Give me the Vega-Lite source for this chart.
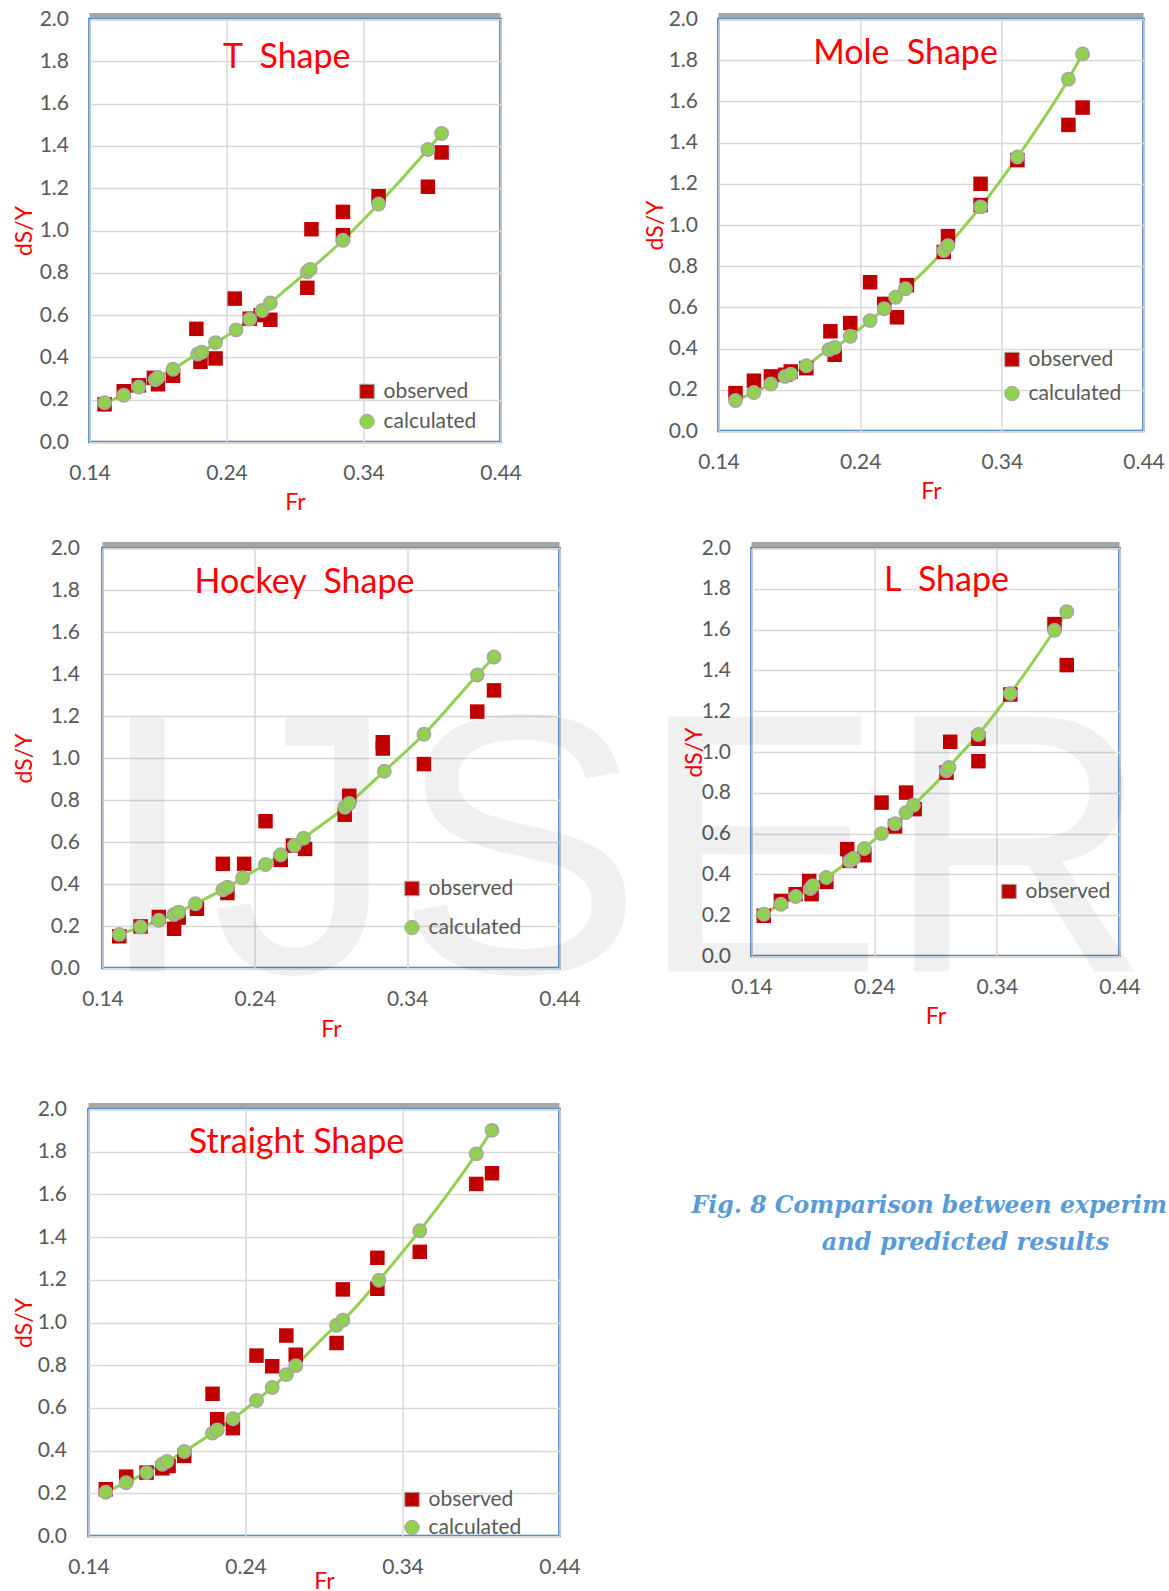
{
"$schema": "https://vega.github.io/schema/vega-lite/v6.json",
"background": "white",
"padding": {"left": 10.5, "top": 6, "right": 0, "bottom": 0},
"datasets": {
"pts": [
{"panel":"T","series":"observed","Fr":0.151,"dSY":0.178},{"panel":"T","series":"observed","Fr":0.165,"dSY":0.240},{"panel":"T","series":"observed","Fr":0.176,"dSY":0.268},{"panel":"T","series":"observed","Fr":0.187,"dSY":0.303},{"panel":"T","series":"observed","Fr":0.190,"dSY":0.273},{"panel":"T","series":"observed","Fr":0.201,"dSY":0.313},{"panel":"T","series":"observed","Fr":0.218,"dSY":0.535},{"panel":"T","series":"observed","Fr":0.221,"dSY":0.379},{"panel":"T","series":"observed","Fr":0.232,"dSY":0.395},{"panel":"T","series":"observed","Fr":0.246,"dSY":0.678},{"panel":"T","series":"observed","Fr":0.257,"dSY":0.583},{"panel":"T","series":"observed","Fr":0.265,"dSY":0.600},{"panel":"T","series":"observed","Fr":0.272,"dSY":0.578},{"panel":"T","series":"observed","Fr":0.299,"dSY":0.729},{"panel":"T","series":"observed","Fr":0.302,"dSY":1.006},{"panel":"T","series":"observed","Fr":0.325,"dSY":1.088},{"panel":"T","series":"observed","Fr":0.325,"dSY":0.978},{"panel":"T","series":"observed","Fr":0.351,"dSY":1.162},{"panel":"T","series":"observed","Fr":0.387,"dSY":1.207},{"panel":"T","series":"observed","Fr":0.397,"dSY":1.369},
{"panel":"T","series":"calculated","Fr":0.151,"dSY":0.186},{"panel":"T","series":"calculated","Fr":0.165,"dSY":0.221},{"panel":"T","series":"calculated","Fr":0.176,"dSY":0.260},{"panel":"T","series":"calculated","Fr":0.188,"dSY":0.295},{"panel":"T","series":"calculated","Fr":0.190,"dSY":0.305},{"panel":"T","series":"calculated","Fr":0.201,"dSY":0.344},{"panel":"T","series":"calculated","Fr":0.219,"dSY":0.416},{"panel":"T","series":"calculated","Fr":0.222,"dSY":0.424},{"panel":"T","series":"calculated","Fr":0.232,"dSY":0.470},{"panel":"T","series":"calculated","Fr":0.247,"dSY":0.530},{"panel":"T","series":"calculated","Fr":0.257,"dSY":0.581},{"panel":"T","series":"calculated","Fr":0.266,"dSY":0.622},{"panel":"T","series":"calculated","Fr":0.272,"dSY":0.657},{"panel":"T","series":"calculated","Fr":0.299,"dSY":0.805},{"panel":"T","series":"calculated","Fr":0.301,"dSY":0.816},{"panel":"T","series":"calculated","Fr":0.325,"dSY":0.954},{"panel":"T","series":"calculated","Fr":0.351,"dSY":1.125},{"panel":"T","series":"calculated","Fr":0.387,"dSY":1.383},{"panel":"T","series":"calculated","Fr":0.397,"dSY":1.459},
{"panel":"Mole","series":"observed","Fr":0.152,"dSY":0.184},{"panel":"Mole","series":"observed","Fr":0.165,"dSY":0.244},{"panel":"Mole","series":"observed","Fr":0.177,"dSY":0.265},{"panel":"Mole","series":"observed","Fr":0.187,"dSY":0.273},{"panel":"Mole","series":"observed","Fr":0.191,"dSY":0.289},{"panel":"Mole","series":"observed","Fr":0.202,"dSY":0.305},{"panel":"Mole","series":"observed","Fr":0.219,"dSY":0.484},{"panel":"Mole","series":"observed","Fr":0.222,"dSY":0.370},{"panel":"Mole","series":"observed","Fr":0.233,"dSY":0.524},{"panel":"Mole","series":"observed","Fr":0.247,"dSY":0.722},{"panel":"Mole","series":"observed","Fr":0.257,"dSY":0.617},{"panel":"Mole","series":"observed","Fr":0.266,"dSY":0.552},{"panel":"Mole","series":"observed","Fr":0.273,"dSY":0.708},{"panel":"Mole","series":"observed","Fr":0.299,"dSY":0.869},{"panel":"Mole","series":"observed","Fr":0.302,"dSY":0.946},{"panel":"Mole","series":"observed","Fr":0.325,"dSY":1.200},{"panel":"Mole","series":"observed","Fr":0.325,"dSY":1.097},{"panel":"Mole","series":"observed","Fr":0.351,"dSY":1.315},{"panel":"Mole","series":"observed","Fr":0.387,"dSY":1.486},{"panel":"Mole","series":"observed","Fr":0.397,"dSY":1.570},
{"panel":"Mole","series":"calculated","Fr":0.152,"dSY":0.148},{"panel":"Mole","series":"calculated","Fr":0.165,"dSY":0.187},{"panel":"Mole","series":"calculated","Fr":0.177,"dSY":0.228},{"panel":"Mole","series":"calculated","Fr":0.187,"dSY":0.265},{"panel":"Mole","series":"calculated","Fr":0.191,"dSY":0.276},{"panel":"Mole","series":"calculated","Fr":0.202,"dSY":0.317},{"panel":"Mole","series":"calculated","Fr":0.218,"dSY":0.395},{"panel":"Mole","series":"calculated","Fr":0.222,"dSY":0.406},{"panel":"Mole","series":"calculated","Fr":0.233,"dSY":0.460},{"panel":"Mole","series":"calculated","Fr":0.247,"dSY":0.536},{"panel":"Mole","series":"calculated","Fr":0.257,"dSY":0.594},{"panel":"Mole","series":"calculated","Fr":0.265,"dSY":0.649},{"panel":"Mole","series":"calculated","Fr":0.272,"dSY":0.691},{"panel":"Mole","series":"calculated","Fr":0.299,"dSY":0.876},{"panel":"Mole","series":"calculated","Fr":0.302,"dSY":0.900},{"panel":"Mole","series":"calculated","Fr":0.325,"dSY":1.088},{"panel":"Mole","series":"calculated","Fr":0.351,"dSY":1.330},{"panel":"Mole","series":"calculated","Fr":0.387,"dSY":1.708},{"panel":"Mole","series":"calculated","Fr":0.397,"dSY":1.830},
{"panel":"Hockey","series":"observed","Fr":0.151,"dSY":0.151},{"panel":"Hockey","series":"observed","Fr":0.165,"dSY":0.198},{"panel":"Hockey","series":"observed","Fr":0.177,"dSY":0.243},{"panel":"Hockey","series":"observed","Fr":0.187,"dSY":0.187},{"panel":"Hockey","series":"observed","Fr":0.190,"dSY":0.240},{"panel":"Hockey","series":"observed","Fr":0.202,"dSY":0.282},{"panel":"Hockey","series":"observed","Fr":0.219,"dSY":0.496},{"panel":"Hockey","series":"observed","Fr":0.222,"dSY":0.357},{"panel":"Hockey","series":"observed","Fr":0.233,"dSY":0.496},{"panel":"Hockey","series":"observed","Fr":0.247,"dSY":0.699},{"panel":"Hockey","series":"observed","Fr":0.257,"dSY":0.515},{"panel":"Hockey","series":"observed","Fr":0.265,"dSY":0.583},{"panel":"Hockey","series":"observed","Fr":0.273,"dSY":0.567},{"panel":"Hockey","series":"observed","Fr":0.299,"dSY":0.730},{"panel":"Hockey","series":"observed","Fr":0.302,"dSY":0.820},{"panel":"Hockey","series":"observed","Fr":0.324,"dSY":1.075},{"panel":"Hockey","series":"observed","Fr":0.324,"dSY":1.045},{"panel":"Hockey","series":"observed","Fr":0.351,"dSY":0.971},{"panel":"Hockey","series":"observed","Fr":0.386,"dSY":1.221},{"panel":"Hockey","series":"observed","Fr":0.397,"dSY":1.322},
{"panel":"Hockey","series":"calculated","Fr":0.151,"dSY":0.160},{"panel":"Hockey","series":"calculated","Fr":0.165,"dSY":0.195},{"panel":"Hockey","series":"calculated","Fr":0.177,"dSY":0.227},{"panel":"Hockey","series":"calculated","Fr":0.187,"dSY":0.255},{"panel":"Hockey","series":"calculated","Fr":0.190,"dSY":0.266},{"panel":"Hockey","series":"calculated","Fr":0.201,"dSY":0.306},{"panel":"Hockey","series":"calculated","Fr":0.219,"dSY":0.373},{"panel":"Hockey","series":"calculated","Fr":0.222,"dSY":0.385},{"panel":"Hockey","series":"calculated","Fr":0.232,"dSY":0.430},{"panel":"Hockey","series":"calculated","Fr":0.247,"dSY":0.493},{"panel":"Hockey","series":"calculated","Fr":0.257,"dSY":0.539},{"panel":"Hockey","series":"calculated","Fr":0.266,"dSY":0.583},{"panel":"Hockey","series":"calculated","Fr":0.272,"dSY":0.618},{"panel":"Hockey","series":"calculated","Fr":0.299,"dSY":0.765},{"panel":"Hockey","series":"calculated","Fr":0.302,"dSY":0.784},{"panel":"Hockey","series":"calculated","Fr":0.325,"dSY":0.937},{"panel":"Hockey","series":"calculated","Fr":0.351,"dSY":1.113},{"panel":"Hockey","series":"calculated","Fr":0.386,"dSY":1.395},{"panel":"Hockey","series":"calculated","Fr":0.397,"dSY":1.481},
{"panel":"L","series":"observed","Fr":0.150,"dSY":0.197},{"panel":"L","series":"observed","Fr":0.164,"dSY":0.270},{"panel":"L","series":"observed","Fr":0.176,"dSY":0.303},{"panel":"L","series":"observed","Fr":0.187,"dSY":0.368},{"panel":"L","series":"observed","Fr":0.189,"dSY":0.303},{"panel":"L","series":"observed","Fr":0.201,"dSY":0.363},{"panel":"L","series":"observed","Fr":0.218,"dSY":0.524},{"panel":"L","series":"observed","Fr":0.220,"dSY":0.466},{"panel":"L","series":"observed","Fr":0.232,"dSY":0.494},{"panel":"L","series":"observed","Fr":0.246,"dSY":0.752},{"panel":"L","series":"observed","Fr":0.257,"dSY":0.635},{"panel":"L","series":"observed","Fr":0.266,"dSY":0.801},{"panel":"L","series":"observed","Fr":0.273,"dSY":0.720},{"panel":"L","series":"observed","Fr":0.299,"dSY":0.899},{"panel":"L","series":"observed","Fr":0.302,"dSY":1.050},{"panel":"L","series":"observed","Fr":0.325,"dSY":1.065},{"panel":"L","series":"observed","Fr":0.325,"dSY":0.955},{"panel":"L","series":"observed","Fr":0.351,"dSY":1.282},{"panel":"L","series":"observed","Fr":0.387,"dSY":1.627},{"panel":"L","series":"observed","Fr":0.397,"dSY":1.426},
{"panel":"L","series":"calculated","Fr":0.150,"dSY":0.205},{"panel":"L","series":"calculated","Fr":0.164,"dSY":0.254},{"panel":"L","series":"calculated","Fr":0.176,"dSY":0.292},{"panel":"L","series":"calculated","Fr":0.188,"dSY":0.331},{"panel":"L","series":"calculated","Fr":0.190,"dSY":0.344},{"panel":"L","series":"calculated","Fr":0.201,"dSY":0.385},{"panel":"L","series":"calculated","Fr":0.220,"dSY":0.466},{"panel":"L","series":"calculated","Fr":0.223,"dSY":0.478},{"panel":"L","series":"calculated","Fr":0.232,"dSY":0.527},{"panel":"L","series":"calculated","Fr":0.246,"dSY":0.600},{"panel":"L","series":"calculated","Fr":0.257,"dSY":0.649},{"panel":"L","series":"calculated","Fr":0.266,"dSY":0.703},{"panel":"L","series":"calculated","Fr":0.272,"dSY":0.739},{"panel":"L","series":"calculated","Fr":0.299,"dSY":0.908},{"panel":"L","series":"calculated","Fr":0.301,"dSY":0.924},{"panel":"L","series":"calculated","Fr":0.325,"dSY":1.086},{"panel":"L","series":"calculated","Fr":0.351,"dSY":1.287},{"panel":"L","series":"calculated","Fr":0.387,"dSY":1.597},{"panel":"L","series":"calculated","Fr":0.397,"dSY":1.688},
{"panel":"Straight","series":"observed","Fr":0.151,"dSY":0.219},{"panel":"Straight","series":"observed","Fr":0.164,"dSY":0.278},{"panel":"Straight","series":"observed","Fr":0.177,"dSY":0.297},{"panel":"Straight","series":"observed","Fr":0.187,"dSY":0.317},{"panel":"Straight","series":"observed","Fr":0.191,"dSY":0.328},{"panel":"Straight","series":"observed","Fr":0.201,"dSY":0.375},{"panel":"Straight","series":"observed","Fr":0.219,"dSY":0.666},{"panel":"Straight","series":"observed","Fr":0.222,"dSY":0.547},{"panel":"Straight","series":"observed","Fr":0.232,"dSY":0.505},{"panel":"Straight","series":"observed","Fr":0.247,"dSY":0.845},{"panel":"Straight","series":"observed","Fr":0.257,"dSY":0.795},{"panel":"Straight","series":"observed","Fr":0.266,"dSY":0.939},{"panel":"Straight","series":"observed","Fr":0.272,"dSY":0.849},{"panel":"Straight","series":"observed","Fr":0.298,"dSY":0.904},{"panel":"Straight","series":"observed","Fr":0.302,"dSY":1.155},{"panel":"Straight","series":"observed","Fr":0.324,"dSY":1.303},{"panel":"Straight","series":"observed","Fr":0.324,"dSY":1.158},{"panel":"Straight","series":"observed","Fr":0.351,"dSY":1.331},{"panel":"Straight","series":"observed","Fr":0.387,"dSY":1.649},{"panel":"Straight","series":"observed","Fr":0.397,"dSY":1.699},
{"panel":"Straight","series":"calculated","Fr":0.151,"dSY":0.205},{"panel":"Straight","series":"calculated","Fr":0.164,"dSY":0.250},{"panel":"Straight","series":"calculated","Fr":0.177,"dSY":0.297},{"panel":"Straight","series":"calculated","Fr":0.187,"dSY":0.336},{"panel":"Straight","series":"calculated","Fr":0.190,"dSY":0.349},{"panel":"Straight","series":"calculated","Fr":0.201,"dSY":0.396},{"panel":"Straight","series":"calculated","Fr":0.219,"dSY":0.482},{"panel":"Straight","series":"calculated","Fr":0.222,"dSY":0.497},{"panel":"Straight","series":"calculated","Fr":0.232,"dSY":0.549},{"panel":"Straight","series":"calculated","Fr":0.247,"dSY":0.635},{"panel":"Straight","series":"calculated","Fr":0.257,"dSY":0.696},{"panel":"Straight","series":"calculated","Fr":0.266,"dSY":0.756},{"panel":"Straight","series":"calculated","Fr":0.272,"dSY":0.798},{"panel":"Straight","series":"calculated","Fr":0.298,"dSY":0.987},{"panel":"Straight","series":"calculated","Fr":0.302,"dSY":1.011},{"panel":"Straight","series":"calculated","Fr":0.325,"dSY":1.198},{"panel":"Straight","series":"calculated","Fr":0.351,"dSY":1.430},{"panel":"Straight","series":"calculated","Fr":0.387,"dSY":1.790},{"panel":"Straight","series":"calculated","Fr":0.397,"dSY":1.900}
]
},
"config": {
"font": "Lato",
"view": {"stroke": "#2e75b6", "strokeWidth": 2.5},
"axis": {"labelFont": "Lato", "labelFontSize": 21, "labelColor": "#595959", "labelFlush": false, "labelOverlap": false, "titleFont": "Lato", "titleFontSize": 23, "titleColor": "#ff0000", "titleFontWeight": "normal", "grid": true, "gridColor": "#d9d9d9", "gridWidth": 1.5, "ticks": false, "domain": false},
"legend": {"labelFont": "Lato", "labelFontSize": 21, "labelColor": "#595959", "symbolSize": 210, "labelOffset": 6, "padding": 0, "symbolStrokeColor": "#a6a6a6", "symbolStrokeWidth": 1}
},
"resolve": {"scale": {"color": "independent", "shape": "independent"}},
"columns": 1,
"align": "none",
"spacing": 48,
"concat": [
{
"columns": 1,
"align": "none",
"spacing": 19,
"resolve": {"scale": {"color": "independent", "shape": "independent"}},
"concat": [
{
"spacing": 0,
"resolve": {"scale": {"color": "independent", "shape": "independent"}},
"hconcat": [
{"width": 1, "height": 1, "view": {"stroke": null}, "data": {"values": [{}]}, "mark": {"type": "point", "size": 0, "opacity": 0}},
{
"spacing": 120,
"resolve": {"scale": {"color": "independent", "shape": "independent"}},
"hconcat": [
{
"width": 411, "height": 423,
"layer": [
{"data": {"values": [{}]}, "mark": {"type": "rule", "stroke": "#a6a6a6", "strokeWidth": 5, "yOffset": -3.5}, "encoding": {"y": {"datum": 2, "type": "quantitative"}}},
{"data": {"name": "pts"}, "transform": [{"filter": "datum.panel === 'T' && datum.series === 'calculated'"}], "mark": {"type": "line", "color": "#92d050", "strokeWidth": 3, "interpolate": "monotone"},
 "encoding": {"x": {"field": "Fr", "type": "quantitative", "title": "Fr", "scale": {"domain": [0.14, 0.44], "nice": false, "zero": false}, "axis": {"values": [0.14, 0.24, 0.34, 0.44], "format": ".2f", "labelPadding": 20, "titlePadding": 8}},
  "y": {"field": "dSY", "type": "quantitative", "title": "dS/Y", "scale": {"domain": [0, 2], "nice": false}, "axis": {"values": [0, 0.2, 0.4, 0.6, 0.8, 1, 1.2, 1.4, 1.6, 1.8, 2], "format": ".1f", "labelPadding": 21, "titlePadding": 3}}}},
{"data": {"name": "pts"}, "transform": [{"filter": "datum.panel === 'T' && datum.series === 'observed'"}], "mark": {"type": "point", "filled": true, "opacity": 1, "size": 210},
 "encoding": {"x": {"field": "Fr", "type": "quantitative"}, "y": {"field": "dSY", "type": "quantitative"},
  "color": {"field": "series", "type": "nominal", "scale": {"domain": ["observed", "calculated"], "range": ["#c00000", "#92d050"]}, "legend": {"title": null, "orient": "none", "legendX": 267, "legendY": 362, "rowPadding": 8}},
  "shape": {"field": "series", "type": "nominal", "scale": {"domain": ["observed", "calculated"], "range": ["square", "circle"]}}}},
{"data": {"name": "pts"}, "transform": [{"filter": "datum.panel === 'T' && datum.series === 'calculated'"}], "mark": {"type": "point", "filled": true, "opacity": 1, "size": 180, "stroke": "#a6a6a6", "strokeWidth": 1.5},
 "encoding": {"x": {"field": "Fr", "type": "quantitative"}, "y": {"field": "dSY", "type": "quantitative"},
  "color": {"field": "series", "type": "nominal"}, "shape": {"field": "series", "type": "nominal"}}},
{"data": {"values": [{"label": "T\u00a0\u00a0Shape"}]}, "mark": {"type": "text", "font": "Lato", "fontSize": 34, "color": "#ff0000", "baseline": "alphabetic"},
 "encoding": {"x": {"datum": 0.284, "type": "quantitative"}, "y": {"datum": 1.77, "type": "quantitative"}, "text": {"field": "label"}}}
]
},
{
"width": 425, "height": 412,
"layer": [
{"data": {"values": [{}]}, "mark": {"type": "rule", "stroke": "#a6a6a6", "strokeWidth": 5, "yOffset": -3.5}, "encoding": {"y": {"datum": 2, "type": "quantitative"}}},
{"data": {"name": "pts"}, "transform": [{"filter": "datum.panel === 'Mole' && datum.series === 'calculated'"}], "mark": {"type": "line", "color": "#92d050", "strokeWidth": 3, "interpolate": "monotone"},
 "encoding": {"x": {"field": "Fr", "type": "quantitative", "title": "Fr", "scale": {"domain": [0.14, 0.44], "nice": false, "zero": false}, "axis": {"values": [0.14, 0.24, 0.34, 0.44], "format": ".2f", "labelPadding": 20, "titlePadding": 8}},
  "y": {"field": "dSY", "type": "quantitative", "title": "dS/Y", "scale": {"domain": [0, 2], "nice": false}, "axis": {"values": [0, 0.2, 0.4, 0.6, 0.8, 1, 1.2, 1.4, 1.6, 1.8, 2], "format": ".1f", "labelPadding": 21, "titlePadding": 1}}}},
{"data": {"name": "pts"}, "transform": [{"filter": "datum.panel === 'Mole' && datum.series === 'observed'"}], "mark": {"type": "point", "filled": true, "opacity": 1, "size": 210},
 "encoding": {"x": {"field": "Fr", "type": "quantitative"}, "y": {"field": "dSY", "type": "quantitative"},
  "color": {"field": "series", "type": "nominal", "scale": {"domain": ["observed", "calculated"], "range": ["#c00000", "#92d050"]}, "legend": {"title": null, "orient": "none", "legendX": 283, "legendY": 330, "rowPadding": 12}},
  "shape": {"field": "series", "type": "nominal", "scale": {"domain": ["observed", "calculated"], "range": ["square", "circle"]}}}},
{"data": {"name": "pts"}, "transform": [{"filter": "datum.panel === 'Mole' && datum.series === 'calculated'"}], "mark": {"type": "point", "filled": true, "opacity": 1, "size": 180, "stroke": "#a6a6a6", "strokeWidth": 1.5},
 "encoding": {"x": {"field": "Fr", "type": "quantitative"}, "y": {"field": "dSY", "type": "quantitative"},
  "color": {"field": "series", "type": "nominal"}, "shape": {"field": "series", "type": "nominal"}}},
{"data": {"values": [{"label": "Mole\u00a0\u00a0Shape"}]}, "mark": {"type": "text", "font": "Lato", "fontSize": 34, "color": "#ff0000", "baseline": "alphabetic"},
 "encoding": {"x": {"datum": 0.272, "type": "quantitative"}, "y": {"datum": 1.783, "type": "quantitative"}, "text": {"field": "label"}}}
]
}
]
}
]
},
{
"spacing": 0,
"resolve": {"scale": {"color": "independent", "shape": "independent"}},
"hconcat": [
{"width": 1, "height": 1, "view": {"stroke": null}, "data": {"values": [{}]}, "mark": {"type": "point", "size": 0, "opacity": 0}},
{
"spacing": -9,
"resolve": {"scale": {"color": "independent", "shape": "independent"}},
"hconcat": [
{
"width": 457, "height": 420,
"layer": [
{"data": {"values": [{"t": "I"}]}, "mark": {"type": "text", "font": "Liberation Sans", "fontSize": 370, "align": "left", "baseline": "alphabetic", "color": "#000000", "opacity": 0.055},
 "encoding": {"x": {"datum": 0.13573, "type": "quantitative"}, "y": {"datum": -0.02, "type": "quantitative"}, "text": {"field": "t"}}},
{"data": {"values": [{"t": "JS"}]}, "mark": {"type": "text", "font": "Liberation Sans", "fontSize": 370, "align": "left", "baseline": "alphabetic", "color": "#000000", "opacity": 0.055},
 "encoding": {"x": {"datum": 0.21124, "type": "quantitative"}, "y": {"datum": -0.02, "type": "quantitative"}, "text": {"field": "t"}}},
{"data": {"values": [{}]}, "mark": {"type": "rule", "stroke": "#a6a6a6", "strokeWidth": 5, "yOffset": -3.5}, "encoding": {"y": {"datum": 2, "type": "quantitative"}}},
{"data": {"name": "pts"}, "transform": [{"filter": "datum.panel === 'Hockey' && datum.series === 'calculated'"}], "mark": {"type": "line", "color": "#92d050", "strokeWidth": 3, "interpolate": "monotone"},
 "encoding": {"x": {"field": "Fr", "type": "quantitative", "title": "Fr", "scale": {"domain": [0.14, 0.44], "nice": false, "zero": false}, "axis": {"values": [0.14, 0.24, 0.34, 0.44], "format": ".2f", "labelPadding": 20, "titlePadding": 9}},
  "y": {"field": "dSY", "type": "quantitative", "title": "dS/Y", "scale": {"domain": [0, 2], "nice": false}, "axis": {"values": [0, 0.2, 0.4, 0.6, 0.8, 1, 1.2, 1.4, 1.6, 1.8, 2], "format": ".1f", "labelPadding": 23, "titlePadding": 14}}}},
{"data": {"name": "pts"}, "transform": [{"filter": "datum.panel === 'Hockey' && datum.series === 'observed'"}], "mark": {"type": "point", "filled": true, "opacity": 1, "size": 210},
 "encoding": {"x": {"field": "Fr", "type": "quantitative"}, "y": {"field": "dSY", "type": "quantitative"},
  "color": {"field": "series", "type": "nominal", "scale": {"domain": ["observed", "calculated"], "range": ["#c00000", "#92d050"]}, "legend": {"title": null, "orient": "none", "legendX": 299, "legendY": 330, "rowPadding": 17}},
  "shape": {"field": "series", "type": "nominal", "scale": {"domain": ["observed", "calculated"], "range": ["square", "circle"]}}}},
{"data": {"name": "pts"}, "transform": [{"filter": "datum.panel === 'Hockey' && datum.series === 'calculated'"}], "mark": {"type": "point", "filled": true, "opacity": 1, "size": 180, "stroke": "#a6a6a6", "strokeWidth": 1.5},
 "encoding": {"x": {"field": "Fr", "type": "quantitative"}, "y": {"field": "dSY", "type": "quantitative"},
  "color": {"field": "series", "type": "nominal"}, "shape": {"field": "series", "type": "nominal"}}},
{"data": {"values": [{"label": "Hockey\u00a0\u00a0Shape"}]}, "mark": {"type": "text", "font": "Lato", "fontSize": 34, "color": "#ff0000", "baseline": "alphabetic"},
 "encoding": {"x": {"datum": 0.2726, "type": "quantitative"}, "y": {"datum": 1.786, "type": "quantitative"}, "text": {"field": "label"}}}
]
},
{
"width": 368, "height": 408,
"layer": [
{"data": {"values": [{"t": "ER"}]}, "mark": {"type": "text", "font": "Liberation Sans", "fontSize": 370, "align": "left", "baseline": "alphabetic", "color": "#000000", "opacity": 0.055},
 "encoding": {"x": {"datum": 0.0469, "type": "quantitative"}, "y": {"datum": -0.0745, "type": "quantitative"}, "text": {"field": "t"}}},
{"data": {"values": [{}]}, "mark": {"type": "rule", "stroke": "#a6a6a6", "strokeWidth": 5, "yOffset": -3.5}, "encoding": {"y": {"datum": 2, "type": "quantitative"}}},
{"data": {"name": "pts"}, "transform": [{"filter": "datum.panel === 'L' && datum.series === 'calculated'"}], "mark": {"type": "line", "color": "#92d050", "strokeWidth": 3, "interpolate": "monotone"},
 "encoding": {"x": {"field": "Fr", "type": "quantitative", "title": "Fr", "scale": {"domain": [0.14, 0.44], "nice": false, "zero": false}, "axis": {"values": [0.14, 0.24, 0.34, 0.44], "format": ".2f", "labelPadding": 20, "titlePadding": 8}},
  "y": {"field": "dSY", "type": "quantitative", "title": "dS/Y", "scale": {"domain": [0, 2], "nice": false}, "axis": {"values": [0, 0.2, 0.4, 0.6, 0.8, 1, 1.2, 1.4, 1.6, 1.8, 2], "format": ".1f", "labelPadding": 21, "titlePadding": -5}}}},
{"data": {"name": "pts"}, "transform": [{"filter": "datum.panel === 'L' && datum.series === 'observed'"}], "mark": {"type": "point", "filled": true, "opacity": 1, "size": 210},
 "encoding": {"x": {"field": "Fr", "type": "quantitative"}, "y": {"field": "dSY", "type": "quantitative"},
  "color": {"field": "series", "type": "nominal", "scale": {"domain": ["observed", "calculated"], "range": ["#c00000", "#92d050"]}, "legend": {"title": null, "orient": "none", "legendX": 247, "legendY": 333, "values": ["observed"]}},
  "shape": {"field": "series", "type": "nominal", "scale": {"domain": ["observed", "calculated"], "range": ["square", "circle"]}}}},
{"data": {"name": "pts"}, "transform": [{"filter": "datum.panel === 'L' && datum.series === 'calculated'"}], "mark": {"type": "point", "filled": true, "opacity": 1, "size": 180, "stroke": "#a6a6a6", "strokeWidth": 1.5},
 "encoding": {"x": {"field": "Fr", "type": "quantitative"}, "y": {"field": "dSY", "type": "quantitative"},
  "color": {"field": "series", "type": "nominal"}, "shape": {"field": "series", "type": "nominal"}}},
{"data": {"values": [{"label": "L\u00a0\u00a0Shape"}]}, "mark": {"type": "text", "font": "Lato", "fontSize": 34, "color": "#ff0000", "baseline": "alphabetic"},
 "encoding": {"x": {"datum": 0.299, "type": "quantitative"}, "y": {"datum": 1.79, "type": "quantitative"}, "text": {"field": "label"}}}
]
}
]
}
]
}
]
},
{
"spacing": 0,
"resolve": {"scale": {"color": "independent", "shape": "independent"}},
"hconcat": [
{"width": 1, "height": 1, "view": {"stroke": null}, "data": {"values": [{}]}, "mark": {"type": "point", "size": 0, "opacity": 0}},
{
"spacing": 110,
"resolve": {"scale": {"color": "independent", "shape": "independent"}},
"hconcat": [
{
"width": 471, "height": 427,
"layer": [
{"data": {"values": [{}]}, "mark": {"type": "rule", "stroke": "#a6a6a6", "strokeWidth": 5, "yOffset": -3.5}, "encoding": {"y": {"datum": 2, "type": "quantitative"}}},
{"data": {"name": "pts"}, "transform": [{"filter": "datum.panel === 'Straight' && datum.series === 'calculated'"}], "mark": {"type": "line", "color": "#92d050", "strokeWidth": 3, "interpolate": "monotone"},
 "encoding": {"x": {"field": "Fr", "type": "quantitative", "title": "Fr", "scale": {"domain": [0.14, 0.44], "nice": false, "zero": false}, "axis": {"values": [0.14, 0.24, 0.34, 0.44], "format": ".2f", "labelPadding": 20, "titlePadding": -7}},
  "y": {"field": "dSY", "type": "quantitative", "title": "dS/Y", "scale": {"domain": [0, 2], "nice": false}, "axis": {"values": [0, 0.2, 0.4, 0.6, 0.8, 1, 1.2, 1.4, 1.6, 1.8, 2], "format": ".1f", "labelPadding": 22, "titlePadding": 1}}}},
{"data": {"name": "pts"}, "transform": [{"filter": "datum.panel === 'Straight' && datum.series === 'observed'"}], "mark": {"type": "point", "filled": true, "opacity": 1, "size": 210},
 "encoding": {"x": {"field": "Fr", "type": "quantitative"}, "y": {"field": "dSY", "type": "quantitative"},
  "color": {"field": "series", "type": "nominal", "scale": {"domain": ["observed", "calculated"], "range": ["#c00000", "#92d050"]}, "legend": {"title": null, "orient": "none", "legendX": 313, "legendY": 380, "rowPadding": 6}},
  "shape": {"field": "series", "type": "nominal", "scale": {"domain": ["observed", "calculated"], "range": ["square", "circle"]}}}},
{"data": {"name": "pts"}, "transform": [{"filter": "datum.panel === 'Straight' && datum.series === 'calculated'"}], "mark": {"type": "point", "filled": true, "opacity": 1, "size": 180, "stroke": "#a6a6a6", "strokeWidth": 1.5},
 "encoding": {"x": {"field": "Fr", "type": "quantitative"}, "y": {"field": "dSY", "type": "quantitative"},
  "color": {"field": "series", "type": "nominal"}, "shape": {"field": "series", "type": "nominal"}}},
{"data": {"values": [{"label": "Straight Shape"}]}, "mark": {"type": "text", "font": "Lato", "fontSize": 34, "color": "#ff0000", "baseline": "alphabetic"},
 "encoding": {"x": {"datum": 0.2725, "type": "quantitative"}, "y": {"datum": 1.793, "type": "quantitative"}, "text": {"field": "label"}}}
]
},
{
"width": 400, "height": 231,
"view": {"stroke": null},
"data": {"values": [{"line": 1, "text": "Fig. 8 Comparison between experimental"}, {"line": 2, "text": "and predicted  results"}]},
"layer": [
{"transform": [{"filter": "datum.line === 1"}], "mark": {"type": "text", "align": "left", "dx": -274, "limit": 477, "ellipsis": "\u200b", "font": "DejaVu Serif", "fontStyle": "italic", "fontWeight": "bold", "fontSize": 23.6, "color": "#5b9bd5"},
 "encoding": {"y": {"field": "line", "type": "quantitative", "axis": null, "scale": {"domain": [-1.583, 4.593], "nice": false, "zero": false, "reverse": true}}, "text": {"field": "text"}}},
{"transform": [{"filter": "datum.line === 2"}], "mark": {"type": "text", "align": "center", "font": "DejaVu Serif", "fontStyle": "italic", "fontWeight": "bold", "fontSize": 24, "color": "#5b9bd5"},
 "encoding": {"y": {"field": "line", "type": "quantitative", "axis": null}, "text": {"field": "text"}}}
]
}
]
}
]
}
]
}
